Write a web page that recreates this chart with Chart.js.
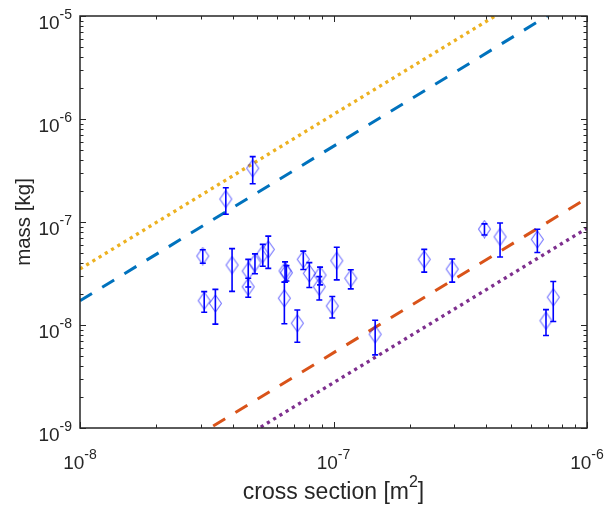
<!DOCTYPE html>
<html>
<head>
<meta charset="utf-8">
<script src="https://cdn.jsdelivr.net/npm/chart.js@4.4.1/dist/chart.umd.min.js"></script>
<style>
  html, body { margin: 0; padding: 0; background: #ffffff; }
  #wrap { width: 605px; height: 505px; position: relative; }
</style>
</head>
<body>
<div id="wrap"><canvas id="c" width="605" height="505"></canvas></div>
<script>
// ---- data ----
const crossSection = [4.80e-8, 3.76e-8, 3.05e-8, 3.09e-8, 3.42e-8, 3.98e-8, 4.61e-8, 4.61e-8, 4.90e-8, 5.26e-8,
  5.53e-8, 6.44e-8, 6.52e-8, 6.40e-8, 7.60e-8, 8.03e-8, 8.85e-8, 8.79e-8, 1.03e-7, 1.17e-7,
  9.89e-8, 7.20e-8, 1.46e-7, 2.28e-7, 2.94e-7, 3.94e-7, 4.54e-7, 6.37e-7, 7.36e-7, 6.89e-7];
const mass = [3.33e-7, 1.67e-7, 4.67e-8, 1.72e-8, 1.62e-8, 3.82e-8, 3.34e-8, 2.35e-8, 4.02e-8, 4.89e-8,
  5.42e-8, 3.35e-8, 3.22e-8, 1.82e-8, 4.34e-8, 3.17e-8, 3.05e-8, 2.35e-8, 4.21e-8, 2.84e-8,
  1.53e-8, 1.04e-8, 8.13e-9, 4.34e-8, 3.49e-8, 8.53e-8, 7.18e-8, 6.78e-8, 1.86e-8, 1.10e-8];
const massErr = [0.98e-7, 0.48e-7, 0.70e-8, 0.39e-8, 0.60e-8, 1.70e-8, 1.00e-8, 0.49e-8, 0.88e-8, 1.17e-8,
  1.87e-8, 0.75e-8, 0.55e-8, 0.79e-8, 0.88e-8, 0.86e-8, 0.60e-8, 0.60e-8, 1.47e-8, 0.60e-8,
  0.36e-8, 0.36e-8, 3.0e-9, 1.08e-8, 0.88e-8, 1.05e-8, 2.6e-8, 1.73e-8, 0.78e-8, 3.1e-9];

// reference lines (end points at x = 1e-8 and x = 1e-6)
const lineX = [1e-8, 1e-6];
const yellowLine = [3.5e-8, 3.5e-5];
const blueLine = [1.72e-8, 1.72e-5];
const orangeLine = [1.7e-10, 1.7e-7];
const purpleLine = [8.7e-11, 8.7e-8];

const xDecades = [1e-8, 1e-7, 1e-6];
const xDecadeExp = ['-8', '-7', '-6'];
const yDecades = [1e-9, 1e-8, 1e-7, 1e-6, 1e-5];
const yDecadeExp = ['-9', '-8', '-7', '-6', '-5'];
const xTitle = 'cross section [m';
const xTitleSup = '2';
const xTitleEnd = ']';
const yTitle = 'mass [kg]';

// ---- styles ----
const TEXT = '#262626';
const FONT = '"Liberation Sans", Arial, Helvetica, sans-serif';

function diamond() {
  const c = document.createElement('canvas');
  c.width = 15; c.height = 19;
  const g = c.getContext('2d');
  g.strokeStyle = 'rgba(0,0,255,0.55)';
  g.lineWidth = 1.1;
  g.beginPath();
  g.moveTo(7.5, 1); g.lineTo(13.5, 9.5); g.lineTo(7.5, 18); g.lineTo(1.5, 9.5); g.closePath();
  g.stroke();
  return c;
}

const pts = crossSection.map((x, i) => ({ x: x, y: mass[i] }));
const mk = (arr) => lineX.map((x, i) => ({ x: x, y: arr[i] }));

const frame = {
  id: 'frame',
  afterDatasetsDraw(chart) {
    const ctx = chart.ctx;
    const xs = chart.scales.x, ys = chart.scales.y;
    const a = chart.chartArea;
    ctx.save();
    // error bars
    ctx.strokeStyle = '#0000ff';
    ctx.lineWidth = 1.6;
    for (let i = 0; i < crossSection.length; i++) {
      const px = xs.getPixelForValue(crossSection[i]);
      const pTop = ys.getPixelForValue(mass[i] + massErr[i]);
      const pBot = ys.getPixelForValue(mass[i] - massErr[i]);
      ctx.beginPath();
      ctx.moveTo(px, pTop); ctx.lineTo(px, pBot);
      ctx.moveTo(px - 3, pTop); ctx.lineTo(px + 3, pTop);
      ctx.moveTo(px - 3, pBot); ctx.lineTo(px + 3, pBot);
      ctx.stroke();
    }
    // box
    ctx.strokeStyle = TEXT;
    ctx.lineWidth = 1.5;
    ctx.strokeRect(a.left, a.top, a.right - a.left, a.bottom - a.top);
    // ticks
    ctx.lineWidth = 1;
    ctx.beginPath();
    for (let d = 0; d < xDecades.length; d++) {
      for (let m = 1; m <= 9; m++) {
        const v = xDecades[d] * m;
        if (v > xDecades[xDecades.length - 1] * 1.0001) break;
        const px = Math.round(xs.getPixelForValue(v)) + 0.5;
        const len = m === 1 ? 6 : 3.5;
        ctx.moveTo(px, a.bottom); ctx.lineTo(px, a.bottom - len);
        ctx.moveTo(px, a.top); ctx.lineTo(px, a.top + len);
      }
    }
    for (let d = 0; d < yDecades.length; d++) {
      for (let m = 1; m <= 9; m++) {
        const v = yDecades[d] * m;
        if (v > yDecades[yDecades.length - 1] * 1.0001) break;
        const py = Math.round(ys.getPixelForValue(v)) + 0.5;
        const len = m === 1 ? 6 : 3.5;
        ctx.moveTo(a.left, py); ctx.lineTo(a.left + len, py);
        ctx.moveTo(a.right, py); ctx.lineTo(a.right - len, py);
      }
    }
    ctx.stroke();

    // tick labels
    ctx.fillStyle = TEXT;
    ctx.textBaseline = 'alphabetic';
    ctx.textAlign = 'left';
    const big = '19px ' + FONT, small = '14px ' + FONT;
    for (let i = 0; i < yDecades.length; i++) {
      const py = ys.getPixelForValue(yDecades[i]);
      ctx.font = big; const w1 = ctx.measureText('10').width;
      ctx.font = small; const w2 = ctx.measureText(yDecadeExp[i]).width;
      const right = 72;
      ctx.font = big; ctx.fillText('10', right - w2 - w1, py + 12.5);
      ctx.font = small; ctx.fillText(yDecadeExp[i], right - w2, py + 3);
    }
    for (let i = 0; i < xDecades.length; i++) {
      const px = xs.getPixelForValue(xDecades[i]);
      ctx.font = big; const w1 = ctx.measureText('10').width;
      ctx.font = small; const w2 = ctx.measureText(xDecadeExp[i]).width;
      const left = px - (w1 + w2) / 2;
      ctx.font = big; ctx.fillText('10', left, 469);
      ctx.font = small; ctx.fillText(xDecadeExp[i], left + w1, 459);
    }
    // x title
    const tBig = '23px ' + FONT, tSmall = '16px ' + FONT;
    ctx.font = tBig; const t1 = ctx.measureText(xTitle).width;
    ctx.font = tSmall; const t2 = ctx.measureText(xTitleSup).width;
    ctx.font = tBig; const t3 = ctx.measureText(xTitleEnd).width;
    const cx = (a.left + a.right) / 2;
    let sx = cx - (t1 + t2 + t3) / 2;
    ctx.font = tBig; ctx.fillText(xTitle, sx, 499);
    ctx.font = tSmall; ctx.fillText(xTitleSup, sx + t1, 487);
    ctx.font = tBig; ctx.fillText(xTitleEnd, sx + t1 + t2, 499);
    // y title
    ctx.save();
    ctx.translate(30, (a.top + a.bottom) / 2);
    ctx.rotate(-Math.PI / 2);
    ctx.textAlign = 'center';
    ctx.font = '20.5px ' + FONT;
    ctx.fillText(yTitle, 0, 0);
    ctx.restore();
    ctx.restore();
  }
};

new Chart(document.getElementById('c'), {
  type: 'scatter',
  data: {
    datasets: [
      { data: pts, pointStyle: diamond(), pointRadius: 8, order: 1 },
      { data: mk(yellowLine), showLine: true, borderColor: '#EDB120', borderWidth: 3.3, borderDash: [3.2, 4.1], pointRadius: 0, order: 2 },
      { data: mk(blueLine), showLine: true, borderColor: '#0072BD', borderWidth: 3, borderDash: [14, 12], pointRadius: 0, order: 2 },
      { data: mk(orangeLine), showLine: true, borderColor: '#D95319', borderWidth: 3, borderDash: [14, 12], pointRadius: 0, order: 2 },
      { data: mk(purpleLine), showLine: true, borderColor: '#7E2F8E', borderWidth: 3.3, borderDash: [3.2, 4.1], pointRadius: 0, order: 2 }
    ]
  },
  options: {
    responsive: false,
    animation: false,
    events: [],
    layout: { padding: { top: 16, right: 18, left: 0, bottom: 0 } },
    plugins: { legend: { display: false }, tooltip: { enabled: false } },
    scales: {
      x: {
        type: 'logarithmic', min: 1e-8, max: 1e-6,
        grid: { display: false }, border: { display: false },
        ticks: { display: false },
        afterFit: (s) => { s.height = 77; }
      },
      y: {
        type: 'logarithmic', min: 1e-9, max: 1e-5,
        grid: { display: false }, border: { display: false },
        ticks: { display: false },
        afterFit: (s) => { s.width = 80; }
      }
    }
  },
  plugins: [frame]
});
</script>
</body>
</html>
